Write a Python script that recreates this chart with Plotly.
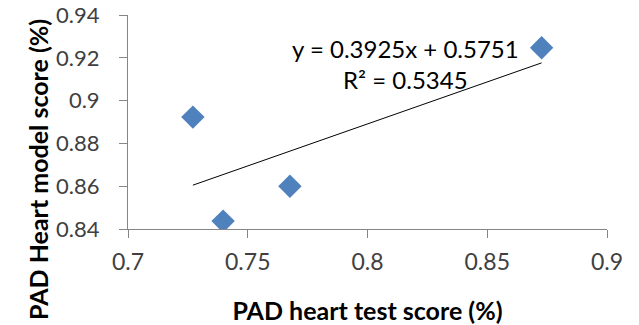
import plotly.graph_objects as go

test_score = [0.7271, 0.7397, 0.7676, 0.8727]
model_score = [0.8923, 0.8437, 0.8600, 0.9247]
slope = 0.3925
intercept = 0.5751
r2 = 0.5345
x_ticks = [0.7, 0.75, 0.8, 0.85, 0.9]
x_tick_labels = ["0.7", "0.75", "0.8", "0.85", "0.9"]
y_ticks = [0.84, 0.86, 0.88, 0.9, 0.92, 0.94]
y_tick_labels = ["0.84", "0.86", "0.88", "0.9", "0.92", "0.94"]

FONT = "Lato"
# plot area in page pixels: x 128..607, y 15..229 (page body margin removed)
TOP, BOT = 15, 229
L, R, T, B = 128, 32, TOP, 325 - BOT
PW, PH = 607 - 128, BOT - TOP

xmin, xmax = min(test_score), max(test_score)
trend_x = [xmin, xmax]
trend_y = [slope * v + intercept for v in trend_x]

fig = go.Figure()
fig.add_trace(go.Scatter(x=trend_x, y=trend_y, mode="lines",
                         line=dict(color="black", width=1), hoverinfo="skip"))
fig.add_trace(go.Scatter(x=test_score, y=model_score, mode="markers",
                         marker=dict(symbol="diamond", size=18, color="#4F81BD",
                                     line=dict(width=0))))

fig.add_annotation(x=0.8157, y=0.917, xref="x", yref="y",
                   text=f"y = {slope}x + {intercept}<br>R² = {r2}",
                   showarrow=False, align="center", xanchor="center", yanchor="middle",
                   font=dict(family=FONT, size=24, color="#000000"))

fig.add_annotation(x=(38 - 128) / PW, y=(BOT - 170) / PH, xref="paper", yref="paper",
                   xanchor="center", yanchor="middle",
                   text="<b>PAD Heart model score (%)</b>", textangle=-90,
                   showarrow=False, font=dict(family=FONT, size=25, color="#000000"))

fig.update_layout(
    width=639, height=325,
    margin=dict(l=L, r=R, t=T, b=B, autoexpand=False),
    paper_bgcolor="white", plot_bgcolor="white",
    showlegend=False,
    font=dict(family=FONT, size=20, color="#404040"),
    xaxis=dict(range=[0.7, 0.9], tickvals=x_ticks, ticktext=x_tick_labels,
               automargin=False,
               showgrid=False, zeroline=False, showline=True, linecolor="#868686",
               linewidth=1, ticks="outside", ticklen=8, tickcolor="#868686",
               ticklabelstandoff=4,
               tickfont=dict(family=FONT, size=23, color="#404040"),
               title=dict(text="<b>PAD heart test score (%)</b>", standoff=28,
                          font=dict(family=FONT, size=25, color="#000000"))),
    yaxis=dict(range=[0.84, 0.94], tickvals=y_ticks, ticktext=y_tick_labels,
               automargin=False,
               showgrid=False, zeroline=False, showline=True, linecolor="#868686",
               linewidth=1, ticks="outside", ticklen=8, tickcolor="#868686",
               ticklabelstandoff=15,
               tickfont=dict(family=FONT, size=22, color="#404040")),
)

fig.write_html("out.html", config={"displayModeBar": False},
               post_script="document.body.style.margin='0';")
